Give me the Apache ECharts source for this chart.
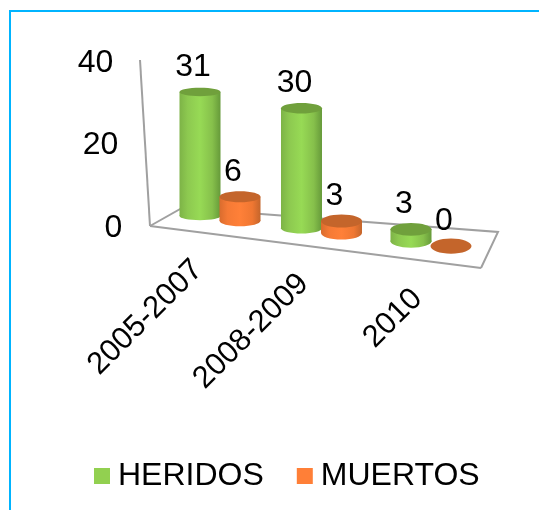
<!DOCTYPE html>
<html>
<head>
<meta charset="utf-8">
<style>
  html, body { margin: 0; padding: 0; background: #fff; }
  #main { width: 539px; height: 510px; }
</style>
</head>
<body>
<div id="main"></div>
<script src="https://cdn.jsdelivr.net/npm/echarts@6/dist/echarts.min.js"></script>
<script>
var categories = ["2005-2007", "2008-2009", "2010"];
var heridos = [31, 30, 3];
var muertos = [6, 3, 0];

var FONT = '32px "Liberation Sans", Arial, sans-serif';
var TICK_FONT = '31px "Liberation Sans", Arial, sans-serif';
var LINE = "#a0a0a0";

// the floor of the fake 3d chart falls to the right, bars follow it
function floorY(x) {
  return 210 + 0.12 * (x - 150);
}

// slight perspective: the middle group sits closer to the first one
function groupX(cx, size) {
  var first = 167.25 + size / 2;
  var last = first + size * 2;
  return cx + 0.00036 * (cx - first) * (cx - last);
}

function grad(stops) {
  return {
    type: "linear", x: 0, y: 0, x2: 1, y2: 0,
    colorStops: stops.map(function (s) { return { offset: s[0], color: s[1] }; })
  };
}

var greenBody = grad([[0, "#7db347"], [0.2, "#8dc950"], [0.5, "#97da55"], [0.8, "#86c04b"], [1, "#669a3a"]]);
var orangeBody = grad([[0, "#d96c2e"], [0.2, "#f57a35"], [0.5, "#ff8038"], [0.8, "#ef7732"], [1, "#c4652b"]]);

function cylinder(shift, body, top, ryBase, ryX) {
  return function (params, api) {
    var i = api.value(0);
    var v = api.value(1);
    var base = api.coord([i, 0]);
    var tip = api.coord([i, v]);
    var x = groupX(base[0], api.size([1, 0])[0]) + shift;
    var rx = 20.5;
    var ry = ryBase + 0.0105 * (x - ryX);
    var y0 = floorY(x);
    var y1 = y0 - (base[1] - tip[1]) * 0.97;
    var children = [];
    if (v > 0) {
      children.push({
        type: "ellipse",
        shape: { cx: x, cy: y0, rx: rx, ry: ry },
        style: { fill: body }
      });
      children.push({
        type: "rect",
        shape: { x: x - rx, y: y1, width: rx * 2, height: y0 - y1 },
        style: { fill: body }
      });
    }
    children.push({
      type: "ellipse",
      shape: { cx: x, cy: y1, rx: rx, ry: ry },
      style: { fill: top }
    });
    children.push({
      type: "text",
      x: x - 7,
      y: y1 - 25,
      style: { text: String(v), font: FONT, fill: "#000", align: "center", verticalAlign: "middle" }
    });
    return { type: "group", children: children };
  };
}

function floorLines() {
  var shapes = [
    [[140, 60], [150, 226]],
    [[150, 226], [481, 268]],
    [[150, 226], [182, 208], [498, 232], [481, 268]]
  ];
  return shapes.map(function (pts) {
    return {
      type: "polyline",
      z: 0,
      shape: { points: pts },
      style: { stroke: LINE, lineWidth: 2, fill: null }
    };
  });
}

var chart = echarts.init(document.getElementById("main"), null, { renderer: "canvas" });

chart.setOption({
  animation: false,
  backgroundColor: "#fff",
  textStyle: { fontFamily: "Liberation Sans" },
  graphic: floorLines().concat([
    { type: "line", shape: { x1: 10, y1: 11, x2: 10, y2: 510 }, style: { stroke: "#00b4ff", lineWidth: 2 } },
    { type: "line", shape: { x1: 9, y1: 11, x2: 539, y2: 11 }, style: { stroke: "#00b4ff", lineWidth: 2 } }
  ]),
  legend: {
    data: ["HERIDOS", "MUERTOS"],
    left: 94,
    top: 460,
    padding: 0,
    icon: "rect",
    itemWidth: 16,
    itemHeight: 16,
    itemGap: 33,
    selectedMode: false,
    textStyle: { fontSize: 32, color: "#000", padding: [0, 0, 0, 3] }
  },
  grid: { left: 167.25, top: 63, width: 316.5, height: 165 },
  xAxis: {
    type: "category",
    data: categories,
    axisLine: { show: false },
    axisTick: { show: false },
    axisLabel: { show: false }
  },
  yAxis: {
    type: "value",
    min: 0,
    max: 40,
    interval: 20,
    axisLine: { show: false },
    axisTick: { show: false },
    splitLine: { show: false },
    axisLabel: {
      margin: 45,
      color: "#000",
      fontSize: 32,
      formatter: function (v) { return "{t" + v + "|" + v + "}"; },
      rich: {
        t0: { fontSize: 32, color: "#000", padding: [0, 0, 0, 0] },
        t20: { fontSize: 32, color: "#000", padding: [0, 4, 0, 0] },
        t40: { fontSize: 32, color: "#000", padding: [0, 9, 0, 0] }
      }
    }
  },
  series: [
    {
      name: "HERIDOS",
      type: "custom",
      itemStyle: { color: "#92d050" },
      renderItem: cylinder(-20, greenBody, "#70a03c", 4.2, 200),
      data: heridos.map(function (v, i) { return [i, v]; })
    },
    {
      name: "MUERTOS",
      type: "custom",
      itemStyle: { color: "#ff7f37" },
      renderItem: cylinder(20, orangeBody, "#c4652b", 5.5, 239),
      data: muertos.map(function (v, i) { return [i, v]; })
    },
    {
      // tick labels walk down with the floor, the axis can't do that itself
      name: "labels",
      type: "custom",
      renderItem: function (params, api) {
        var i = api.value(0);
        var c = api.coord([i, 0]);
        var x = groupX(c[0], api.size([1, 0])[0]);
        return {
          type: "text",
          x: x - 22 + 0.04 * (x - 220),
          y: 265 + 0.137 * (x - 220),
          rotation: Math.PI / 4,
          style: { text: categories[i], font: TICK_FONT, fill: "#000", align: "right", verticalAlign: "middle" }
        };
      },
      data: categories.map(function (c, i) { return [i, 0]; })
    }
  ]
});
</script>
</body>
</html>
